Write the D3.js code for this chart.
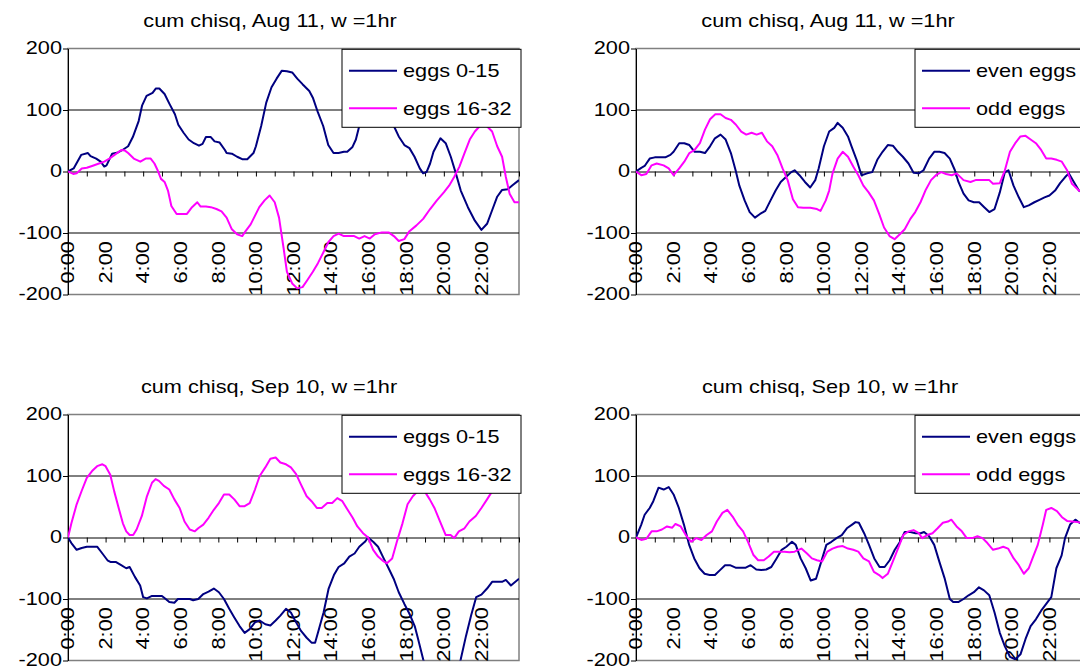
<!DOCTYPE html>
<html>
<head>
<meta charset="utf-8">
<script src="https://cdn.jsdelivr.net/npm/d3@7/dist/d3.min.js"></script>
<style>
  body { margin: 0; background: #fff; }
  svg { display: block; }
  text { font-family: "Liberation Sans", Arial, sans-serif; fill: #000; }
</style>
</head>
<body>
<div id="chart"></div>
<script>
// [hour, cumulative chi-square]
const aug11Eggs0to15 = [[0,0],[0.3,5],[0.7,27],[1.06,30],[1.2,25],[1.5,21],[1.74,16],[1.93,8],[2.05,10],[2.35,29],[2.66,31],[2.9,35],[3.2,41],[3.45,56],[3.76,82],[3.94,107],[4.18,123],[4.5,128],[4.68,135],[4.86,135],[5.14,126],[5.4,110],[5.69,93],[5.87,76],[6.15,63],[6.42,52],[6.7,46],[6.97,42],[7.16,45],[7.34,56],[7.6,56],[7.8,49],[8.07,47],[8.35,35],[8.44,30],[8.72,29],[9,24],[9.27,20],[9.54,20],[9.87,30],[10,41],[10.28,74],[10.55,112],[10.83,137],[11.1,151],[11.38,164],[11.65,163],[11.93,161],[12.2,151],[12.48,142],[12.84,131],[13.03,120],[13.3,96],[13.58,74],[13.85,43],[14.13,30],[14.4,30],[14.68,32],[14.86,32],[15.14,40],[15.32,52],[15.5,74],[15.8,95],[16.2,110],[16.6,112],[17.0,95],[17.34,74],[17.6,57],[17.9,43],[18.17,38],[18.44,24],[18.72,5],[18.9,-3],[19.08,-1],[19.27,13],[19.45,32],[19.82,54],[20.1,46],[20.37,24],[20.64,-3],[20.9,-31],[21.28,-58],[21.65,-80],[22.0,-95],[22.3,-85],[22.57,-63],[22.84,-41],[23.1,-30],[23.4,-29],[23.67,-22],[24,-14]];
const aug11Eggs16to32 = [[0,0],[0.28,-4],[0.46,-3],[0.73,5],[1,6],[1.28,9],[1.65,13],[1.93,16],[2.2,21],[2.57,29],[2.84,35],[3.03,34],[3.2,30],[3.5,21],[3.85,16],[4.13,21],[4.4,21],[4.6,13],[4.77,2],[4.95,-12],[5.14,-17],[5.32,-31],[5.5,-56],[5.78,-69],[6.05,-69],[6.33,-69],[6.6,-58],[6.88,-50],[7.06,-57],[7.34,-57],[7.6,-58],[7.9,-61],[8.17,-65],[8.44,-75],[8.72,-94],[9.0,-102],[9.27,-105],[9.45,-97],[9.72,-86],[9.9,-75],[10.18,-58],[10.46,-47],[10.73,-39],[11.0,-50],[11.23,-75],[11.47,-124],[11.65,-163],[11.93,-182],[12.2,-190],[12.48,-188],[12.75,-176],[13.03,-163],[13.3,-149],[13.58,-132],[13.85,-115],[14.13,-105],[14.4,-101],[14.68,-105],[15.23,-105],[15.5,-109],[15.78,-105],[16.06,-109],[16.33,-102],[16.7,-99],[17.06,-99],[17.34,-105],[17.6,-113],[17.9,-110],[18.17,-97],[18.53,-88],[18.9,-77],[19.27,-61],[19.63,-47],[20.0,-34],[20.28,-23],[20.55,-9],[20.83,8],[21.1,30],[21.38,52],[21.65,65],[21.92,74],[22.28,74],[22.57,65],[22.84,41],[23.1,24],[23.3,-9],[23.5,-36],[23.76,-50],[24,-50]];
const aug11EvenEggs = [[0,0],[0.28,6],[0.46,9],[0.73,21],[1.0,23],[1.28,23],[1.56,23],[1.83,27],[2.0,32],[2.3,46],[2.57,46],[2.84,43],[3.12,32],[3.4,32],[3.67,30],[3.94,41],[4.2,54],[4.5,60],[4.77,52],[5.05,30],[5.3,2],[5.5,-23],[5.78,-47],[6.05,-66],[6.33,-75],[6.6,-69],[6.88,-64],[7.16,-47],[7.43,-31],[7.7,-17],[7.98,-9],[8.26,-1],[8.44,2],[8.7,-6],[8.99,-17],[9.27,-26],[9.54,-14],[9.72,5],[10.0,41],[10.28,65],[10.55,71],[10.73,79],[11.0,71],[11.28,57],[11.47,41],[11.74,19],[12.0,-6],[12.3,-3],[12.57,-1],[12.84,19],[13.12,32],[13.4,43],[13.67,42],[13.94,32],[14.2,24],[14.5,13],[14.77,-2],[15.05,-3],[15.3,2],[15.6,21],[15.87,32],[16.15,32],[16.42,30],[16.7,21],[16.97,2],[17.16,-17],[17.43,-36],[17.7,-47],[17.98,-50],[18.26,-50],[18.53,-58],[18.8,-66],[19.08,-61],[19.36,-34],[19.63,-1],[19.82,2],[20.09,-23],[20.37,-42],[20.64,-58],[20.9,-55],[21.2,-50],[21.47,-46],[21.74,-42],[22.0,-39],[22.3,-31],[22.57,-19],[22.84,-9],[23.03,-3],[23.3,-17],[23.57,-31],[24,-38]];
const aug11OddEggs = [[0,0],[0.28,-6],[0.55,-4],[0.83,10],[1.1,13],[1.47,10],[1.74,5],[2.0,-6],[2.3,5],[2.57,16],[2.84,30],[3.12,35],[3.4,46],[3.67,68],[3.94,85],[4.22,93],[4.5,93],[4.77,87],[5.05,84],[5.32,76],[5.6,65],[5.87,60],[6.15,63],[6.42,60],[6.7,63],[6.97,49],[7.25,41],[7.52,27],[7.8,5],[8.07,-14],[8.35,-45],[8.62,-58],[8.9,-59],[9.27,-59],[9.63,-61],[9.82,-64],[10.1,-47],[10.28,-31],[10.46,-3],[10.73,21],[11.0,32],[11.28,24],[11.56,8],[11.83,-6],[12.1,-23],[12.38,-34],[12.66,-47],[12.94,-69],[13.2,-91],[13.49,-105],[13.76,-110],[14.04,-102],[14.3,-94],[14.6,-77],[14.86,-66],[15.14,-50],[15.4,-31],[15.7,-14],[15.96,-6],[16.24,-1],[16.5,-4],[16.8,-6],[17.06,-3],[17.43,-14],[17.8,-17],[18.07,-14],[18.53,-14],[18.8,-14],[19.0,-20],[19.36,-19],[19.63,2],[19.9,32],[20.18,46],[20.46,57],[20.73,58],[21.0,52],[21.28,46],[21.56,35],[21.83,21],[22.1,21],[22.39,19],[22.66,16],[22.94,2],[23.2,-20],[23.57,-31],[24,-35]];
const sep10Eggs0to15 = [[0,0],[0.18,-9],[0.46,-20],[0.73,-17],[1.0,-15],[1.28,-15],[1.55,-15],[1.83,-26],[2.1,-37],[2.28,-40],[2.56,-40],[2.83,-45],[3.1,-50],[3.28,-48],[3.56,-64],[3.84,-78],[4.0,-97],[4.2,-99],[4.47,-95],[4.75,-95],[5.0,-95],[5.2,-100],[5.39,-105],[5.66,-106],[5.85,-100],[6.2,-100],[6.48,-100],[6.66,-102],[6.93,-100],[7.2,-92],[7.48,-88],[7.76,-83],[8.03,-89],[8.3,-100],[8.58,-116],[8.85,-130],[9.13,-144],[9.4,-155],[9.67,-149],[9.95,-138],[10.2,-135],[10.5,-141],[10.77,-143],[11.05,-135],[11.3,-127],[11.6,-116],[11.86,-122],[12.14,-138],[12.4,-152],[12.7,-163],[12.96,-171],[13.15,-171],[13.3,-155],[13.6,-122],[13.87,-83],[14.15,-61],[14.4,-48],[14.7,-42],[14.97,-31],[15.25,-26],[15.5,-15],[15.8,-7],[15.97,0],[16.24,-7],[16.5,-15],[16.8,-34],[17.06,-50],[17.33,-67],[17.6,-89],[17.9,-108],[18.17,-124],[18.45,-144],[18.63,-165],[18.9,-198],[19.3,-235],[20.0,-250],[20.6,-230],[20.9,-198],[21.18,-160],[21.45,-127],[21.72,-97],[22.0,-93],[22.3,-83],[22.57,-72],[22.84,-72],[23.1,-72],[23.3,-69],[23.57,-78],[24,-67]];
const sep10Eggs16to32 = [[0,0],[0.18,23],[0.46,54],[0.73,76],[1.0,97],[1.28,108],[1.55,116],[1.83,119],[2.0,116],[2.25,102],[2.46,75],[2.74,43],[2.92,23],[3.1,10],[3.28,4],[3.47,4],[3.65,13],[3.93,35],[4.2,67],[4.47,89],[4.66,95],[4.84,92],[5.1,84],[5.39,78],[5.66,62],[5.94,48],[6.2,26],[6.48,13],[6.75,10],[6.93,15],[7.2,21],[7.48,32],[7.76,45],[8.03,56],[8.3,70],[8.58,70],[8.85,62],[9.13,51],[9.4,51],[9.67,56],[9.95,78],[10.2,100],[10.5,114],[10.77,128],[11.05,130],[11.3,122],[11.6,119],[11.86,114],[12.14,103],[12.4,86],[12.7,67],[12.96,59],[13.24,48],[13.5,48],[13.8,56],[14.06,56],[14.33,64],[14.6,59],[14.88,45],[15.15,32],[15.4,18],[15.7,7],[15.97,0],[16.24,-20],[16.5,-31],[16.8,-39],[16.97,-42],[17.25,-34],[17.5,-7],[17.8,23],[18.07,54],[18.35,67],[18.6,75],[18.8,80],[18.98,75],[19.25,62],[19.5,48],[19.8,26],[20.1,4],[20.36,4],[20.55,-1],[20.8,10],[21.1,15],[21.36,26],[21.7,35],[22.0,48],[22.3,62],[22.57,75],[23.0,92],[23.5,108],[24,118]];
const sep10EvenEggs = [[0,0],[0.28,21],[0.46,37],[0.73,48],[0.92,59],[1.2,81],[1.47,78],[1.74,82],[2.0,70],[2.28,48],[2.55,21],[2.83,-12],[3.1,-34],[3.38,-50],[3.65,-59],[3.92,-61],[4.2,-61],[4.47,-53],[4.74,-45],[5.0,-45],[5.3,-49],[5.57,-49],[5.84,-49],[6.1,-45],[6.4,-52],[6.66,-53],[6.93,-52],[7.2,-48],[7.48,-34],[7.75,-20],[8.0,-15],[8.3,-7],[8.5,-12],[8.76,-34],[9.03,-50],[9.3,-70],[9.58,-67],[9.85,-40],[10.13,-12],[10.4,-7],[10.67,-1],[10.95,4],[11.22,15],[11.5,21],[11.68,25],[11.86,24],[12.14,7],[12.4,-12],[12.68,-34],[12.96,-48],[13.23,-48],[13.5,-37],[13.77,-20],[14.05,-7],[14.3,9],[14.6,9],[14.87,7],[15.15,7],[15.33,9],[15.6,2],[15.87,-12],[16.15,-40],[16.42,-66],[16.7,-100],[16.88,-105],[17.15,-105],[17.43,-100],[17.7,-94],[17.98,-89],[18.25,-81],[18.52,-86],[18.8,-94],[19.08,-122],[19.36,-155],[19.63,-177],[19.9,-194],[20.18,-198],[20.46,-190],[20.73,-165],[21.0,-144],[21.28,-133],[21.56,-119],[21.83,-108],[22.1,-97],[22.37,-50],[22.65,-29],[22.83,-1],[23.1,21],[23.38,29],[23.6,24],[24,21]];
const sep10OddEggs = [[0,0],[0.28,-4],[0.55,-2],[0.83,10],[1.1,10],[1.38,13],[1.65,18],[1.93,16],[2.1,22],[2.38,18],[2.65,4],[2.94,-7],[3.2,-1],[3.48,-4],[3.76,4],[4.04,10],[4.3,26],[4.6,40],[4.86,45],[5.14,34],[5.4,21],[5.7,10],[5.96,-7],[6.24,-28],[6.5,-37],[6.8,-37],[7.06,-31],[7.34,-23],[7.6,-23],[7.9,-23],[8.17,-24],[8.44,-23],[8.8,-18],[9.1,-26],[9.36,-34],[9.63,-37],[9.9,-39],[10.18,-23],[10.46,-18],[10.73,-15],[11.0,-14],[11.28,-18],[11.56,-20],[11.83,-23],[12.1,-34],[12.4,-39],[12.66,-56],[12.94,-61],[13.12,-66],[13.4,-59],[13.67,-39],[13.94,-18],[14.22,4],[14.5,10],[14.77,12],[15.05,7],[15.23,-1],[15.5,4],[15.78,7],[16.05,15],[16.33,24],[16.6,26],[16.78,29],[17.06,18],[17.34,10],[17.6,-1],[17.9,-1],[18.17,2],[18.44,-1],[18.7,-9],[19.0,-20],[19.26,-18],[19.54,-15],[19.8,-18],[20.1,-34],[20.37,-45],[20.64,-59],[20.9,-50],[21.1,-34],[21.38,-12],[21.65,21],[21.83,45],[22.1,48],[22.4,43],[22.67,33],[22.94,27],[23.2,26],[23.5,25],[23.7,24],[24,22]];

const titles = ["cum chisq, Aug 11, w =1hr", "cum chisq, Aug 11, w =1hr", "cum chisq, Sep 10, w =1hr", "cum chisq, Sep 10, w =1hr"];
const halfNames = ["eggs 0-15", "eggs 16-32"];
const parityNames = ["even eggs", "odd eggs"];
const hourLabels = ["0:00","2:00","4:00","6:00","8:00","10:00","12:00","14:00","16:00","18:00","20:00","22:00"];
const yTicks = [-200, -100, 0, 100, 200];
const seriesColors = ["#000080", "#FF00FF"];

const W = 1080, H = 668;
const plotW = 451, plotH = 246;
const fontPx = 17.5, stretch = 1.24;

const panels = [
  { title: titles[0], names: halfNames,   series: [aug11Eggs0to15, aug11Eggs16to32], left: 68,  top: 48.5, titleX: 270, legendDx: 274 },
  { title: titles[1], names: parityNames, series: [aug11EvenEggs,  aug11OddEggs],    left: 636, top: 48.5, titleX: 828, legendDx: 279 },
  { title: titles[2], names: halfNames,   series: [sep10Eggs0to15, sep10Eggs16to32], left: 68,  top: 414.5, titleX: 269, legendDx: 274 },
  { title: titles[3], names: parityNames, series: [sep10EvenEggs,  sep10OddEggs],    left: 636, top: 414.5, titleX: 830, legendDx: 279 }
];

const svg = d3.select("#chart").append("svg")
  .attr("width", W).attr("height", H);

panels.forEach((p, i) => {
  const x = d3.scaleLinear().domain([0, 24]).range([p.left, p.left + plotW]);
  const y = d3.scaleLinear().domain([-200, 200]).range([p.top + plotH, p.top]);
  const g = svg.append("g");

  // title
  g.append("text")
    .attr("transform", `translate(${p.titleX},${p.top - 22}) scale(${stretch},1)`)
    .attr("text-anchor", "middle")
    .style("font-size", fontPx + "px")
    .text(p.title);

  // plot frame
  g.append("rect")
    .attr("x", p.left).attr("y", p.top)
    .attr("width", plotW).attr("height", plotH)
    .attr("fill", "#fff").attr("stroke", "#808080").attr("stroke-width", 1.5);

  // gridlines
  g.selectAll(".grid").data([-100, 100]).enter().append("line")
    .attr("x1", p.left).attr("x2", p.left + plotW)
    .attr("y1", d => y(d)).attr("y2", d => y(d))
    .attr("stroke", "#000").attr("stroke-width", 1);

  // y axis
  const yAxis = g.append("g")
    .attr("transform", `translate(${p.left},0)`)
    .call(d3.axisLeft(y).tickValues(yTicks).tickSize(5).tickSizeOuter(0).tickFormat(""));
  yAxis.select(".domain").attr("stroke", "#000");
  yAxis.selectAll(".tick line").attr("stroke", "#000");
  g.selectAll(".ylab").data(yTicks).enter().append("text")
    .attr("transform", d => `translate(${p.left - 6},${y(d)}) scale(${stretch},1)`)
    .attr("text-anchor", "end")
    .attr("dy", "0.34em")
    .style("font-size", fontPx + "px")
    .text(d => d);

  // hour axis on the zero line
  const xAxis = g.append("g")
    .attr("transform", `translate(0,${y(0)})`)
    .call(d3.axisBottom(x).tickValues(d3.range(0, 25)).tickSize(5).tickSizeOuter(0).tickFormat(""));
  xAxis.select(".domain").attr("stroke", "#000");
  xAxis.selectAll(".tick line").attr("stroke", "#000");

  g.selectAll(".xlab").data(hourLabels).enter().append("text")
    .attr("transform", (d, k) => `translate(${x(k * 2)},${y(-100) + 8}) rotate(-90) scale(1.25,1)`)
    .attr("text-anchor", "end")
    .attr("dy", "0.36em")
    .style("font-size", fontPx + "px")
    .text(d => d);

  // series
  const clipId = "clip" + i;
  g.append("clipPath").attr("id", clipId)
    .append("rect").attr("x", p.left).attr("y", p.top).attr("width", plotW).attr("height", plotH);

  const line = d3.line().x(d => x(d[0])).y(d => y(d[1]));
  p.series.forEach((s, k) => {
    g.append("path").datum(s)
      .attr("clip-path", `url(#${clipId})`)
      .attr("fill", "none")
      .attr("stroke", seriesColors[k])
      .attr("stroke-width", 2)
      .attr("stroke-linejoin", "round")
      .attr("d", line);
  });

  // legend
  const lx = p.left + p.legendDx, ly = p.top + 0.8;
  const legend = g.append("g");
  legend.append("rect")
    .attr("x", lx).attr("y", ly).attr("width", 179).attr("height", 78)
    .attr("fill", "#fff").attr("stroke", "#000").attr("stroke-width", 1);
  p.names.forEach((name, k) => {
    const ry = ly + 21.5 + k * 37.5;
    legend.append("line")
      .attr("x1", lx + 7).attr("x2", lx + 55)
      .attr("y1", ry).attr("y2", ry)
      .attr("stroke", seriesColors[k]).attr("stroke-width", 2);
    legend.append("text")
      .attr("transform", `translate(${lx + 61},${ry}) scale(${stretch},1)`)
      .attr("dy", "0.36em")
      .style("font-size", fontPx + "px")
      .text(name);
  });
});
</script>
</body>
</html>
